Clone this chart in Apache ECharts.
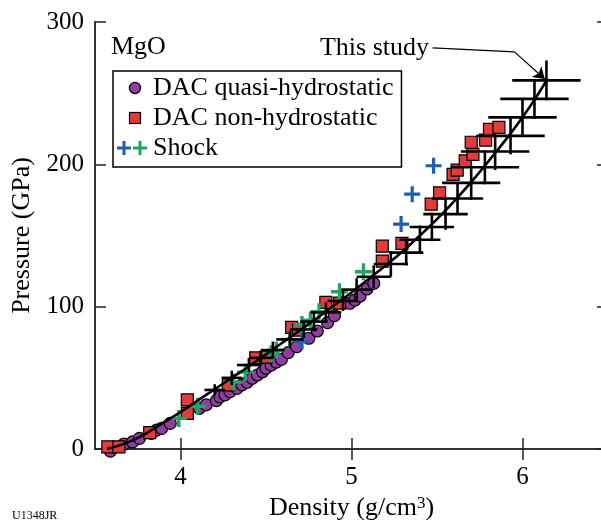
<!DOCTYPE html>
<html>
<head>
<meta charset="utf-8">
<script src="https://cdn.jsdelivr.net/npm/echarts@6/dist/echarts.min.js"></script>
<style>
  html, body { margin: 0; padding: 0; background: #fff; }
  #main { width: 601px; height: 520px; }
</style>
</head>
<body>
<div id="main"></div>
<script>
// DAC quasi-hydrostatic (density g/cm3, pressure GPa)
const quasiHydro = [
  [3.59, -1.5], [3.67, 3.5], [3.72, 5], [3.76, 7.5], [3.83, 11], [3.86, 13.3],
  [3.89, 14.5], [3.94, 18], [4.11, 28.6], [4.15, 31], [4.21, 34], [4.23, 36.7],
  [4.26, 38], [4.29, 40.3], [4.33, 42.6], [4.36, 45], [4.39, 46.9], [4.42, 49.7],
  [4.45, 52], [4.48, 54.3], [4.50, 56.7], [4.53, 59], [4.56, 61], [4.59, 63],
  [4.63, 67.7], [4.68, 71.9], [4.75, 77.8], [4.80, 82.9], [4.86, 88.8], [4.90, 93.7],
  [4.99, 102.4], [5.02, 104.7], [5.05, 107.5], [5.09, 112.4], [5.13, 116.4]
];
// DAC non-hydrostatic
const nonHydro = [
  [3.575, 1.5], [3.64, 1.5], [3.82, 11.5], [4.04, 25], [4.04, 34.5], [4.28, 45],
  [4.44, 64], [4.50, 64.5], [4.65, 85.5], [4.69, 83.5], [4.85, 103], [4.93, 102.5],
  [5.18, 132], [5.18, 142.5], [5.295, 144.5], [5.466, 172], [5.515, 180], [5.594, 193],
  [5.618, 196], [5.665, 202.5], [5.71, 207], [5.70, 215.5], [5.784, 217], [5.807, 224.5],
  [5.862, 226]
];
// Shock data (two sources)
const shockBlue = [[4.71, 75.5], [5.29, 158], [5.355, 179], [5.48, 199]];
const shockGreen = [
  [3.99, 21.5], [4.10, 30], [4.31, 47], [4.38, 54], [4.53, 67], [4.56, 69.5],
  [4.64, 77], [4.71, 87.5], [4.76, 90.5], [4.81, 96.5], [4.93, 110.5], [5.07, 124.5]
];
// This study: fit curve
const fitCurve = [
  [3.57, 0], [3.7, 5], [3.8, 11], [3.9, 18.5], [4.0, 26], [4.1, 34], [4.2, 42],
  [4.3, 50], [4.4, 58], [4.5, 66.5], [4.6, 75], [4.7, 83.5], [4.8, 92], [4.9, 101],
  [5.0, 110], [5.1, 119.5], [5.2, 129], [5.3, 139], [5.4, 150], [5.5, 161.5],
  [5.6, 174], [5.7, 187.5], [5.8, 202], [5.9, 217], [6.0, 233], [6.1, 251], [6.14, 259]
];
// This study: points with error (density, pressure, +-density, +-pressure)
const studyPoints = [
  [4.20, 41.5, 0.06, 4], [4.30, 50, 0.06, 5], [4.40, 59, 0.07, 5], [4.47, 64, 0.07, 5],
  [4.54, 69.5, 0.07, 6], [4.64, 77, 0.08, 6], [4.72, 84, 0.08, 6], [4.78, 89.5, 0.08, 7],
  [4.85, 96, 0.09, 7], [4.95, 104, 0.09, 7], [5.03, 112, 0.09, 8], [5.13, 121, 0.1, 8],
  [5.23, 130, 0.1, 9], [5.32, 138, 0.1, 9], [5.40, 147, 0.12, 10], [5.47, 156, 0.13, 10],
  [5.55, 165, 0.13, 11], [5.62, 176, 0.15, 11], [5.70, 187, 0.17, 12], [5.78, 198, 0.2, 12],
  [5.84, 209, 0.2, 13], [5.93, 220, 0.2, 13], [6.00, 233, 0.2, 13], [6.07, 246, 0.2, 14],
  [6.14, 259, 0.2, 14]
];
// annotation arrow "This study"
const arrowStart = [5.474, 281.8];
const arrowBend = [5.953, 279];
const arrowEnd = [6.13, 260];
const xTicks = [4, 5, 6];

const serif = "'Liberation Serif', 'DejaVu Serif', serif";
const plusPath = 'path://M6.4,0H9.6V6.4H16V9.6H9.6V16H6.4V9.6H0V6.4H6.4Z';
const svgIcon = (body) => 'image://data:image/svg+xml;utf8,' + encodeURIComponent(
  '<svg xmlns="http://www.w3.org/2000/svg" width="32" height="16" viewBox="0 0 32 16">' + body + '</svg>');
const circleIcon = svgIcon('<circle cx="19" cy="8" r="5.6" fill="#8e3e9e" stroke="#000" stroke-width="1.2"/>');
const squareIcon = svgIcon('<rect x="13.5" y="2.5" width="11" height="11" fill="#e23b3b" stroke="#000" stroke-width="1.2"/>');
const shockIcon = svgIcon(
  '<path d="M1,8H15M8,1V15" stroke="#1d5fae" stroke-width="3"/>' +
  '<path d="M17,8H31M24,1V15" stroke="#1fa463" stroke-width="3"/>');

const chart = echarts.init(document.getElementById('main'));

const errorCross = (params, api) => {
  const x = api.value(0), y = api.value(1), dx = api.value(2), dy = api.value(3);
  const l = api.coord([x - dx, y]), r = api.coord([x + dx, y]);
  const t = api.coord([x, y + dy]), b = api.coord([x, y - dy]);
  const style = { stroke: '#000', lineWidth: 2.6 };
  return {
    type: 'group',
    children: [
      { type: 'line', shape: { x1: l[0], y1: l[1], x2: r[0], y2: r[1] }, style: style },
      { type: 'line', shape: { x1: t[0], y1: t[1], x2: b[0], y2: b[1] }, style: style }
    ]
  };
};

const axisCommon = {
  axisLine: { lineStyle: { color: '#333', width: 2 } },
  axisTick: { inside: true, length: 11, lineStyle: { color: '#222', width: 1.5 } },
  splitLine: { show: false }
};

const option = {
  animation: false,
  title: {
    text: 'MgO', left: 111, top: 34, padding: 0,
    textStyle: { fontFamily: serif, fontSize: 26, fontWeight: 'normal', color: '#000' }
  },
  legend: {
    orient: 'vertical', left: 113, top: 71,
    padding: [4, 8, 6, 3],
    itemWidth: 32, itemHeight: 16, itemGap: 4,
    borderColor: '#000', borderWidth: 1.5,
    textStyle: { fontFamily: serif, fontSize: 26, color: '#000', lineHeight: 26 },
    data: [
      { name: 'DAC quasi-hydrostatic', icon: circleIcon },
      { name: 'DAC non-hydrostatic', icon: squareIcon },
      { name: 'Shock', icon: shockIcon }
    ]
  },
  grid: { left: 95, right: -7, top: 22, bottom: 71, outerBoundsMode: 'none' },
  xAxis: [
    Object.assign({}, axisCommon, {
      type: 'value', min: 3.5, max: 6.5, position: 'bottom',
      name: 'Density (g/cm{s|3})', nameLocation: 'middle', nameGap: 46,
      nameTextStyle: { fontFamily: serif, fontSize: 26, color: '#000',
        rich: { s: { fontFamily: serif, fontSize: 17, verticalAlign: 'top', padding: [0, 0, 10, 0] } } },
      axisTick: Object.assign({}, axisCommon.axisTick, { customValues: xTicks }),
      axisLabel: { customValues: xTicks, margin: 16, fontFamily: serif, fontSize: 25, color: '#000' }
    }),
    Object.assign({}, axisCommon, {
      type: 'value', min: 3.5, max: 6.5, position: 'top',
      axisTick: Object.assign({}, axisCommon.axisTick, { customValues: xTicks }),
      axisLabel: { show: false }
    })
  ],
  yAxis: [
    Object.assign({}, axisCommon, {
      type: 'value', min: 0, max: 300, interval: 100, position: 'left',
      name: 'Pressure (GPa)', nameLocation: 'middle', nameGap: 50,
      nameTextStyle: { fontFamily: serif, fontSize: 26, color: '#000' },
      axisLabel: { margin: 11, fontFamily: serif, fontSize: 25, color: '#000' }
    }),
    Object.assign({}, axisCommon, {
      type: 'value', min: 0, max: 300, interval: 100, position: 'right',
      axisLabel: { show: false }
    })
  ],
  series: [
    {
      name: 'DAC quasi-hydrostatic', type: 'scatter', data: quasiHydro,
      symbol: 'circle', symbolSize: 12, clip: false,
      itemStyle: { color: '#8e3e9e', borderColor: '#000', borderWidth: 1.2, opacity: 1 }
    },
    {
      name: 'DAC non-hydrostatic', type: 'scatter', data: nonHydro,
      symbol: 'rect', symbolSize: 12, clip: false,
      itemStyle: { color: '#e23b3b', borderColor: '#000', borderWidth: 1.2, opacity: 1 }
    },
    {
      name: 'Shock', type: 'scatter', data: shockGreen,
      symbol: plusPath, symbolSize: 17,
      itemStyle: { color: '#1fa463', opacity: 1 }
    },
    {
      name: 'Shock blue', type: 'scatter', data: shockBlue,
      symbol: plusPath, symbolSize: 16,
      itemStyle: { color: '#1d5fae', opacity: 1 }
    },
    {
      name: 'fit', type: 'line', data: fitCurve, smooth: true, showSymbol: false,
      lineStyle: { color: '#000', width: 2.6 }, z: 4
    },
    {
      name: 'This study', type: 'custom', data: studyPoints, renderItem: errorCross, z: 4
    },
    {
      name: 'arrow1', type: 'lines', coordinateSystem: 'cartesian2d',
      symbol: ['none', 'none'],
      lineStyle: { color: '#000', width: 1.2, opacity: 1, curveness: 0 },
      data: [{ coords: [arrowStart, arrowBend] }], z: 5
    },
    {
      name: 'arrow2', type: 'lines', coordinateSystem: 'cartesian2d',
      symbol: ['none', 'arrow'], symbolSize: 11,
      lineStyle: { color: '#000', width: 1.2, opacity: 1, curveness: 0 },
      data: [{ coords: [arrowBend, arrowEnd] }], z: 5
    },
    {
      name: 'label', type: 'scatter', data: [arrowStart], symbolSize: 1,
      itemStyle: { opacity: 0 },
      label: {
        show: true, position: 'left', distance: 3, formatter: 'This study',
        fontFamily: serif, fontSize: 26, color: '#000', opacity: 1
      }
    }
  ],
  graphic: [
    {
      type: 'text', left: 12, top: 510,
      style: { text: 'U1348JR', fontFamily: serif, fontSize: 12, fill: '#000' }
    }
  ]
};
chart.setOption(option);
</script>
</body>
</html>
